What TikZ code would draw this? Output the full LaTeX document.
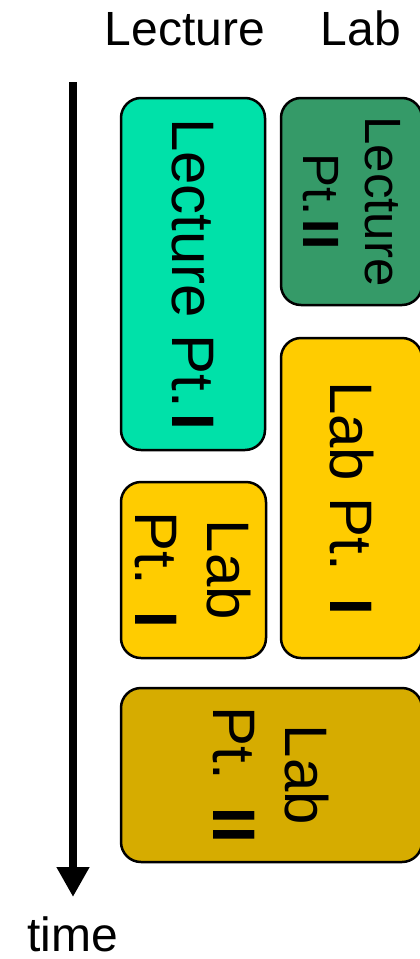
\documentclass[tikz,border=0pt]{standalone}
\usepackage{fontspec}
\setmainfont{Liberation Sans}
\usetikzlibrary{arrows.meta}
\definecolor{lecA}{HTML}{00E1A9}
\definecolor{lecB}{HTML}{359A68}
\definecolor{labA}{HTML}{FFCC00}
\definecolor{labB}{HTML}{D6AC00}
\newcommand{\romI}{\hspace{0.08em}\textbf{I}}
\newcommand{\romII}{\hspace{0.08em}\textbf{I}\hspace{0.04em}\textbf{I}}
\begin{document}
\begin{tikzpicture}[x=1pt,y=-1pt,
  blk/.style={draw=black,line width=2.5pt,rounded corners=20pt,rotate=-90,
    inner sep=0pt,align=center,font=\fontsize{60}{72}\selectfont},
  hdr/.style={anchor=base,font=\fontsize{48}{58}\selectfont,inner sep=0pt}]
\useasboundingbox (0,0) rectangle (420,959);
\clip (0,0) rectangle (420,959);
% headers
\node[hdr] (lec) at (185,45) {Lecture};
\node[hdr] (lab) at (361,45) {Lab};
\node[hdr] (time) at (72.5,951) {time};
% time arrow
\coordinate (a0) at (73,82);
\coordinate (a1) at (73,897);
\draw[line width=8pt,-{Triangle[length=30pt,width=31pt]}] (a0) -- (a1);
% blocks
\node[blk,fill=lecA,minimum width=352pt,minimum height=144pt] (b1) at (193,274) {Lecture Pt.\romI};
\node[blk,fill=lecB,minimum width=207pt,minimum height=141pt,font=\fontsize{51}{62}\selectfont] (b2) at (351.5,201.5) {Lecture\\Pt.\romII};
\node[blk,fill=labA,minimum width=320pt,minimum height=141pt] (b3) at (351.5,498) {Lab Pt. \romI};
\node[blk,fill=labA,minimum width=176pt,minimum height=145pt] (b4) at (193.5,570) {Lab\\Pt. \romI};
\node[blk,fill=labB,minimum width=174pt,minimum height=301pt] (b5) at (271.5,775) {Lab\\Pt. \romII};
\end{tikzpicture}
\end{document}
